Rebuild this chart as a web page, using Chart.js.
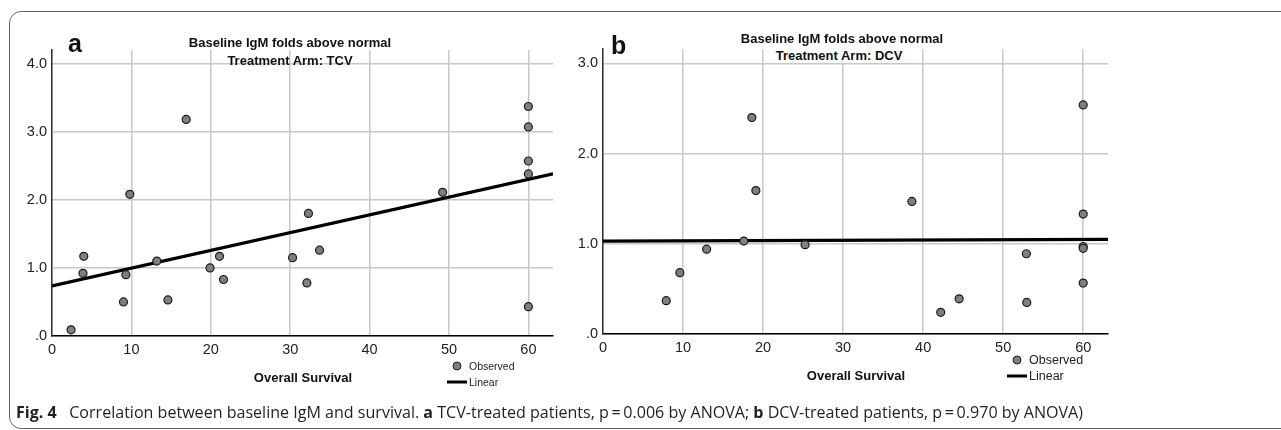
<!DOCTYPE html>
<html>
<head>
<meta charset="utf-8">
<script src="https://cdn.jsdelivr.net/npm/chart.js@4.4.1/dist/chart.umd.min.js"></script>
<style>
  html, body { margin: 0; padding: 0; background: #fff; }
  body { width: 1281px; height: 430px; position: relative; overflow: hidden;
         font-family: "Liberation Sans", Arial, sans-serif; color: #111; }
  .frame { position: absolute; left: 9px; top: 11px; width: 1320px; height: 416px;
           border: 1.5px solid #666; border-radius: 12px; }
  canvas { position: absolute; top: 0; }
  .abs { position: absolute; white-space: nowrap; }
  .ctr { transform: translate(-50%, -50%); }
  .title { font-weight: bold; font-size: 13px; line-height: 18px; text-align: center; }
  .panel { font-weight: bold; font-size: 25px; }
  .axt { font-weight: bold; font-size: 13px; }
  .dot { position: absolute; width: 7px; height: 7px; border-radius: 50%;
         background: #7f7f7f; border: 1px solid #222; transform: translate(-50%, -50%); }
  .bar { position: absolute; height: 3px; background: #000; transform: translateY(-50%); }
  .lg { position: absolute; transform: translateY(-50%); color: #222; }
  #caption { left: 16px; top: 411px; font-family: "Open Sans", sans-serif; font-size: 16.5px;
             color: #231f20; transform-origin: 0 50%; }
</style>
</head>
<body>
<div class="frame"></div>
<canvas id="tcvChart" width="570" height="400" style="left:0px"></canvas>
<canvas id="dcvChart" width="721" height="400" style="left:560px"></canvas>

<!-- panel a texts -->
<div class="abs panel" style="left:68px; top:29px">a</div>
<div class="abs title ctr" style="left:290px; top:52px">Baseline IgM folds above normal<br>Treatment Arm: TCV</div>
<div class="abs axt ctr" style="left:303px; top:377px">Overall Survival</div>

<!-- panel b texts -->
<div class="abs panel" style="left:611px; top:31px">b</div>
<div class="abs title ctr" style="left:842px; top:39px">Baseline IgM folds above normal</div>
<div class="abs title ctr" style="left:839px; top:55px; background:#fff; padding:0 2px; line-height:15px">Treatment Arm: DCV</div>
<div class="abs axt ctr" style="left:856px; top:375px">Overall Survival</div>

<div id="legendA"></div>
<div id="legendB"></div>

<div id="caption" class="abs"><b>Fig. 4</b>&nbsp;&nbsp; Correlation between baseline IgM and survival. <b>a</b> TCV-treated patients, p&#8201;=&#8201;0.006 by ANOVA; <b>b</b> DCV-treated patients, p&#8201;=&#8201;0.970 by ANOVA)</div>

<script>
// ===== DATA =====
// panel a: TCV arm
const tcvSurvival = [2.4, 3.9, 4.0, 9.0, 9.3, 9.8, 13.2, 14.6, 16.9, 19.9, 21.1,
  21.6, 30.3, 32.1, 32.3, 33.7, 49.2, 60, 60, 60, 60, 60];
const tcvIgM = [0.09, 0.92, 1.17, 0.50, 0.90, 2.08, 1.10, 0.53, 3.18, 1.00, 1.17,
  0.83, 1.15, 0.78, 1.80, 1.26, 2.11, 3.37, 3.07, 2.57, 2.38, 0.43];
const tcvFitX = [0, 63.1];
const tcvFitY = [0.735, 2.38];

// panel b: DCV arm
const dcvSurvival = [7.9, 9.6, 12.95, 17.6, 18.6, 19.1, 25.25, 38.6, 42.2, 44.5,
  52.9, 52.95, 60, 60, 60, 60, 60];
const dcvIgM = [0.37, 0.68, 0.94, 1.03, 2.40, 1.59, 0.99, 1.47, 0.24, 0.39,
  0.89, 0.35, 2.54, 1.33, 0.97, 0.95, 0.565];
const dcvFitX = [0, 63.1];
const dcvFitY = [1.03, 1.05];

const xTicks = [0, 10, 20, 30, 40, 50, 60];
const legendLabels = ["Observed", "Linear"];

Chart.defaults.font.family = "'Liberation Sans', Arial, sans-serif";
Chart.defaults.color = "#222";

const zip = (xs, ys) => xs.map((x, i) => ({ x: x, y: ys[i] }));

function makeChart(id, xs, ys, fitX, fitY, yMax, opts) {
  return new Chart(document.getElementById(id), {
    type: "scatter",
    data: {
      datasets: [
        {
          label: legendLabels[0],
          data: zip(xs, ys),
          pointRadius: 4,
          pointHoverRadius: 4,
          backgroundColor: "#7f7f7f",
          borderColor: "#1a1a1a",
          borderWidth: 1.2,
          order: 1,
        },
        {
          label: legendLabels[1],
          type: "line",
          data: zip(fitX, fitY),
          borderColor: "#000",
          borderWidth: 3.2,
          pointRadius: 0,
          fill: false,
          order: 2,
        },
      ],
    },
    options: {
      responsive: false,
      animation: false,
      events: [],
      layout: { padding: opts.padding },
      plugins: { legend: { display: false }, tooltip: { enabled: false } },
      scales: {
        x: {
          type: "linear",
          min: 0,
          max: 63.1,
          afterFit: (s) => { s.height = opts.xHeight; },
          afterBuildTicks: (s) => { s.ticks = xTicks.map((v) => ({ value: v })); },
          ticks: { font: { size: 14.5 }, padding: 5, maxRotation: 0 },
          grid: { color: "#c8c8c8", lineWidth: 1.5, drawTicks: false },
          border: { color: "#000", width: 1.5 },
        },
        y: {
          min: 0,
          max: yMax,
          afterFit: (s) => { s.width = opts.yWidth; },
          ticks: {
            stepSize: 1,
            includeBounds: false,
            font: { size: 14.5 },
            padding: 5,
            callback: (v) => (v === 0 ? ".0" : v.toFixed(1)),
          },
          grid: { color: "#c8c8c8", lineWidth: 1.5, drawTicks: false },
          border: { color: "#333", width: 1.5 },
        },
      },
    },
  });
}

makeChart("tcvChart", tcvSurvival, tcvIgM, tcvFitX, tcvFitY, 4.2, {
  padding: { top: 50, right: 17, left: 0, bottom: 0 },
  xHeight: 64,
  yWidth: 52,
});

makeChart("dcvChart", dcvSurvival, dcvIgM, dcvFitX, dcvFitY, 3.16, {
  padding: { top: 49, right: 173, left: 0, bottom: 0 },
  xHeight: 66,
  yWidth: 43,
});

// ===== LEGENDS =====
function legend(el, x, y, gap, size) {
  el.innerHTML =
    `<div class="dot" style="left:${x + 10}px; top:${y}px"></div>` +
    `<div class="lg" style="left:${x + 22}px; top:${y}px; font-size:${size}px">${legendLabels[0]}</div>` +
    `<div class="bar" style="left:${x}px; top:${y + gap}px; width:20px"></div>` +
    `<div class="lg" style="left:${x + 22}px; top:${y + gap}px; font-size:${size}px">${legendLabels[1]}</div>`;
}
legend(document.getElementById("legendA"), 447, 366, 16, 10.5);
legend(document.getElementById("legendB"), 1007, 360, 16, 12.5);

// squeeze caption to the width it takes in the figure
const cap = document.getElementById("caption");
const w = cap.getBoundingClientRect().width;
cap.style.transform = `translateY(-50%) scaleX(${1067 / w})`;
</script>
</body>
</html>
